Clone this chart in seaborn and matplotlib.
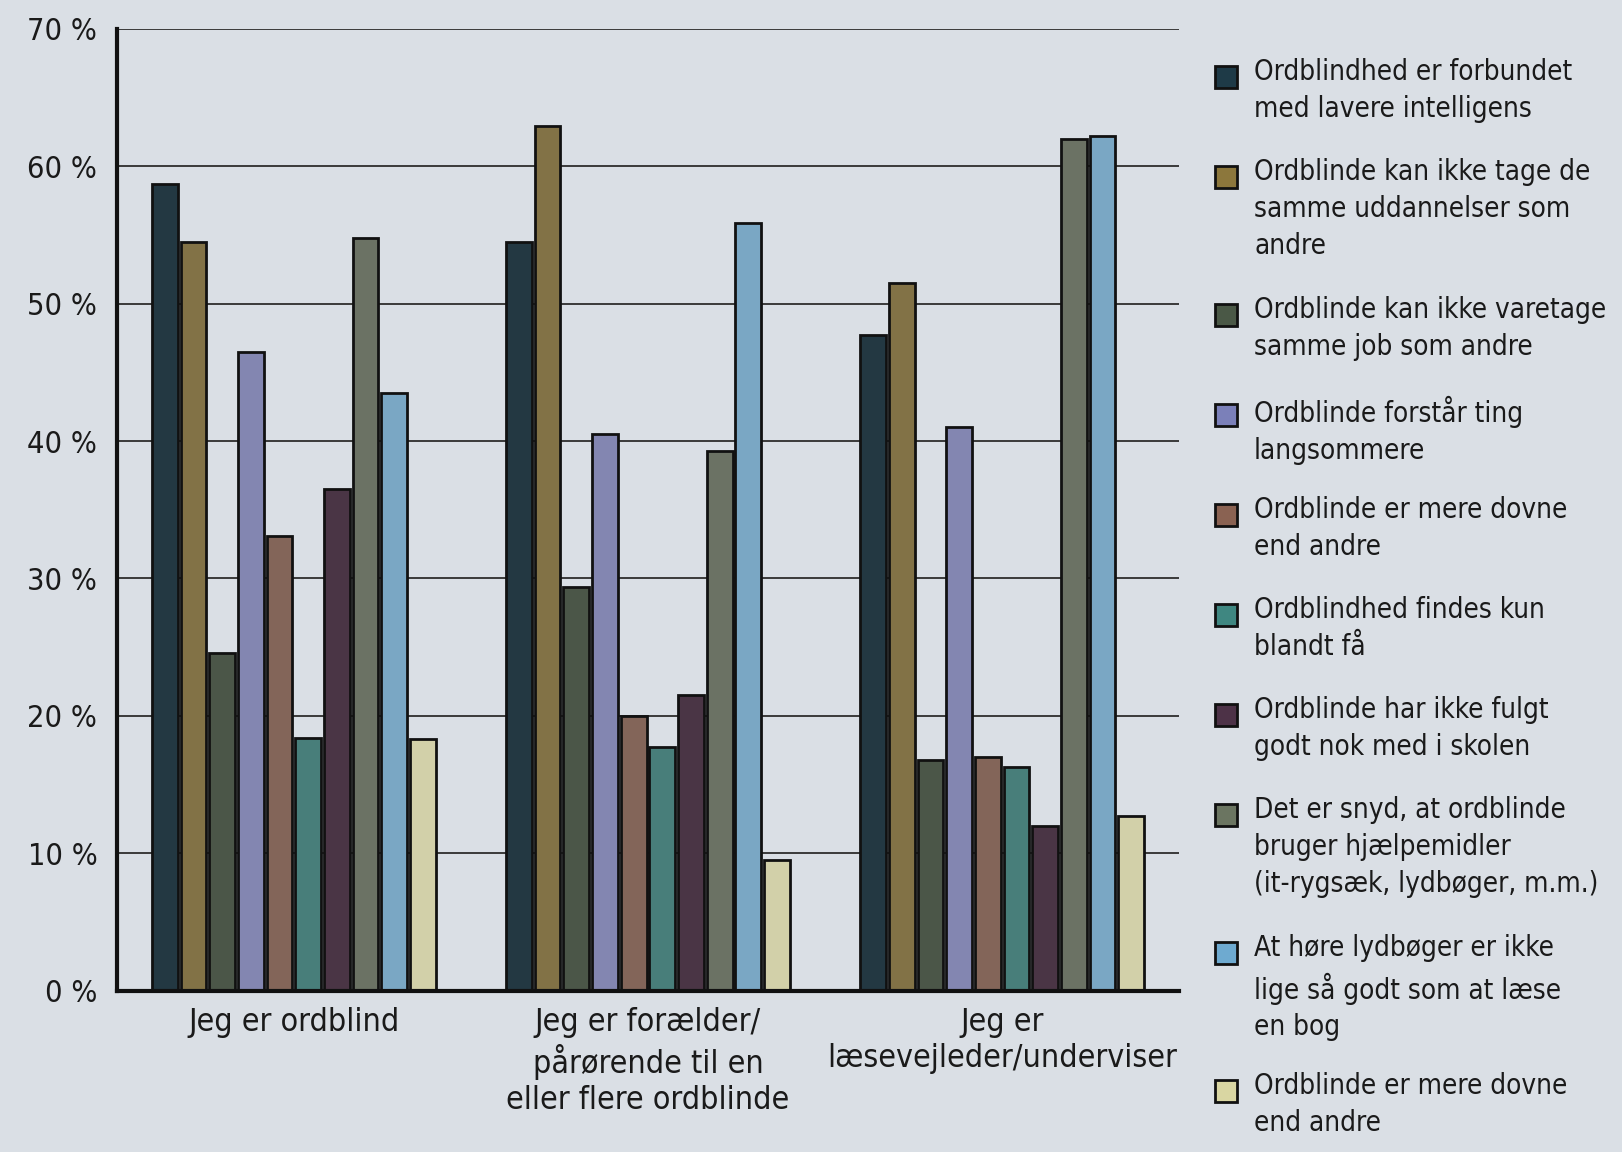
import numpy as np
import pandas as pd
import matplotlib
matplotlib.use("Agg")
import matplotlib.pyplot as plt
import seaborn as sns
from matplotlib.patches import Rectangle

# groups on the x axis
groups = ["Jeg er ordblind",
          "Jeg er forælder/\npårørende til en\neller flere ordblinde",
          "Jeg er\nlæsevejleder/underviser"]

# statements (legend), one value per group, in %
labels = ["Ordblindhed er forbundet\nmed lavere intelligens",
          "Ordblinde kan ikke tage de\nsamme uddannelser som\nandre",
          "Ordblinde kan ikke varetage\nsamme job som andre",
          "Ordblinde forstår ting\nlangsommere",
          "Ordblinde er mere dovne\nend andre",
          "Ordblindhed findes kun\nblandt få",
          "Ordblinde har ikke fulgt\ngodt nok med i skolen",
          "Det er snyd, at ordblinde\nbruger hjælpemidler\n(it-rygsæk, lydbøger, m.m.)",
          "At høre lydbøger er ikke\nlige så godt som at læse\nen bog",
          "Ordblinde er mere dovne\nend andre"]

intelligens = [58.7, 54.5, 47.7]
uddannelser = [54.5, 62.9, 51.5]
job = [24.6, 29.4, 16.8]
langsommere = [46.5, 40.5, 41.0]
dovne = [33.1, 20.0, 17.0]
faa = [18.4, 17.7, 16.3]
skolen = [36.5, 21.5, 12.0]
snyd = [54.8, 39.3, 62.0]
lydboeger = [43.5, 55.9, 62.2]
dovne2 = [18.3, 9.5, 12.7]

colors = ["#1e3a47", "#8c773c", "#4a5846", "#7b80b9", "#8a6252",
          "#3f8781", "#4d3247", "#6b7561", "#6eaad0", "#d9d6a2"]

series = [intelligens, uddannelser, job, langsommere, dovne,
          faa, skolen, snyd, lydboeger, dovne2]
keys = [f"s{i}" for i in range(len(series))]

rows = []
for k, vals in zip(keys, series):
    for g, v in zip(groups, vals):
        rows.append({"gruppe": g, "serie": k, "pct": v})
df = pd.DataFrame(rows)

bg = "#dadfe5"
ink = "#1a1a1a"
sns.set_theme(style="white")
plt.rcParams["font.family"] = ["DejaVu Sans"]
plt.rcParams["font.stretch"] = "condensed"

W, H = 1622, 1152
fig = plt.figure(figsize=(W / 100, H / 100), dpi=100, facecolor=bg)
ax = fig.add_axes([0.072, 0.14, 0.655, 0.835])
ax.set_facecolor(bg)

sns.barplot(data=df, x="gruppe", y="pct", hue="serie", hue_order=keys,
            palette=dict(zip(keys, colors)), edgecolor="#111111",
            linewidth=2, gap=0.1, width=0.81, legend=False, ax=ax)

ax.set_ylim(0, 70)
ax.set_xlim(-0.5, 2.5)
ax.set_yticks(np.arange(0, 71, 10))
ax.set_yticklabels([f"{t} %" for t in range(0, 71, 10)], fontsize=22, color=ink)
ax.yaxis.grid(True, color="#3a3a3a", linewidth=1.4)
ax.set_axisbelow(True)
ax.set_xlabel("")
ax.set_ylabel("")
ax.tick_params(axis="x", length=0, labelsize=23, pad=12, labelcolor=ink)
ax.tick_params(axis="y", length=0, pad=14)
ax.set_xticks([0.5, 1.5, 2.5], minor=True)
ax.tick_params(axis="x", which="minor", length=18, width=3, color="#111111", direction="out")
for s in ["top", "right"]:
    ax.spines[s].set_visible(False)
for s in ["left", "bottom"]:
    ax.spines[s].set_color("#111111")
    ax.spines[s].set_linewidth(3)

# legend: square next to the first line of each label
line_h = 38
gap = 24
box = 22
x_box = 1215
x_txt = 1254
y = 62
for c, lab in zip(colors, labels):
    n = lab.count("\n") + 1
    fig.patches.append(Rectangle((x_box / W, 1 - (y + 4 + box) / H), box / W, box / H,
                                 transform=fig.transFigure, facecolor=c,
                                 edgecolor="#111111", linewidth=2))
    fig.text(x_txt / W, 1 - (y - 4) / H, lab, fontsize=20, color=ink,
             va="top", ha="left", linespacing=1.4)
    y += n * line_h + gap

fig.savefig("out.png", dpi=100, facecolor=bg)
